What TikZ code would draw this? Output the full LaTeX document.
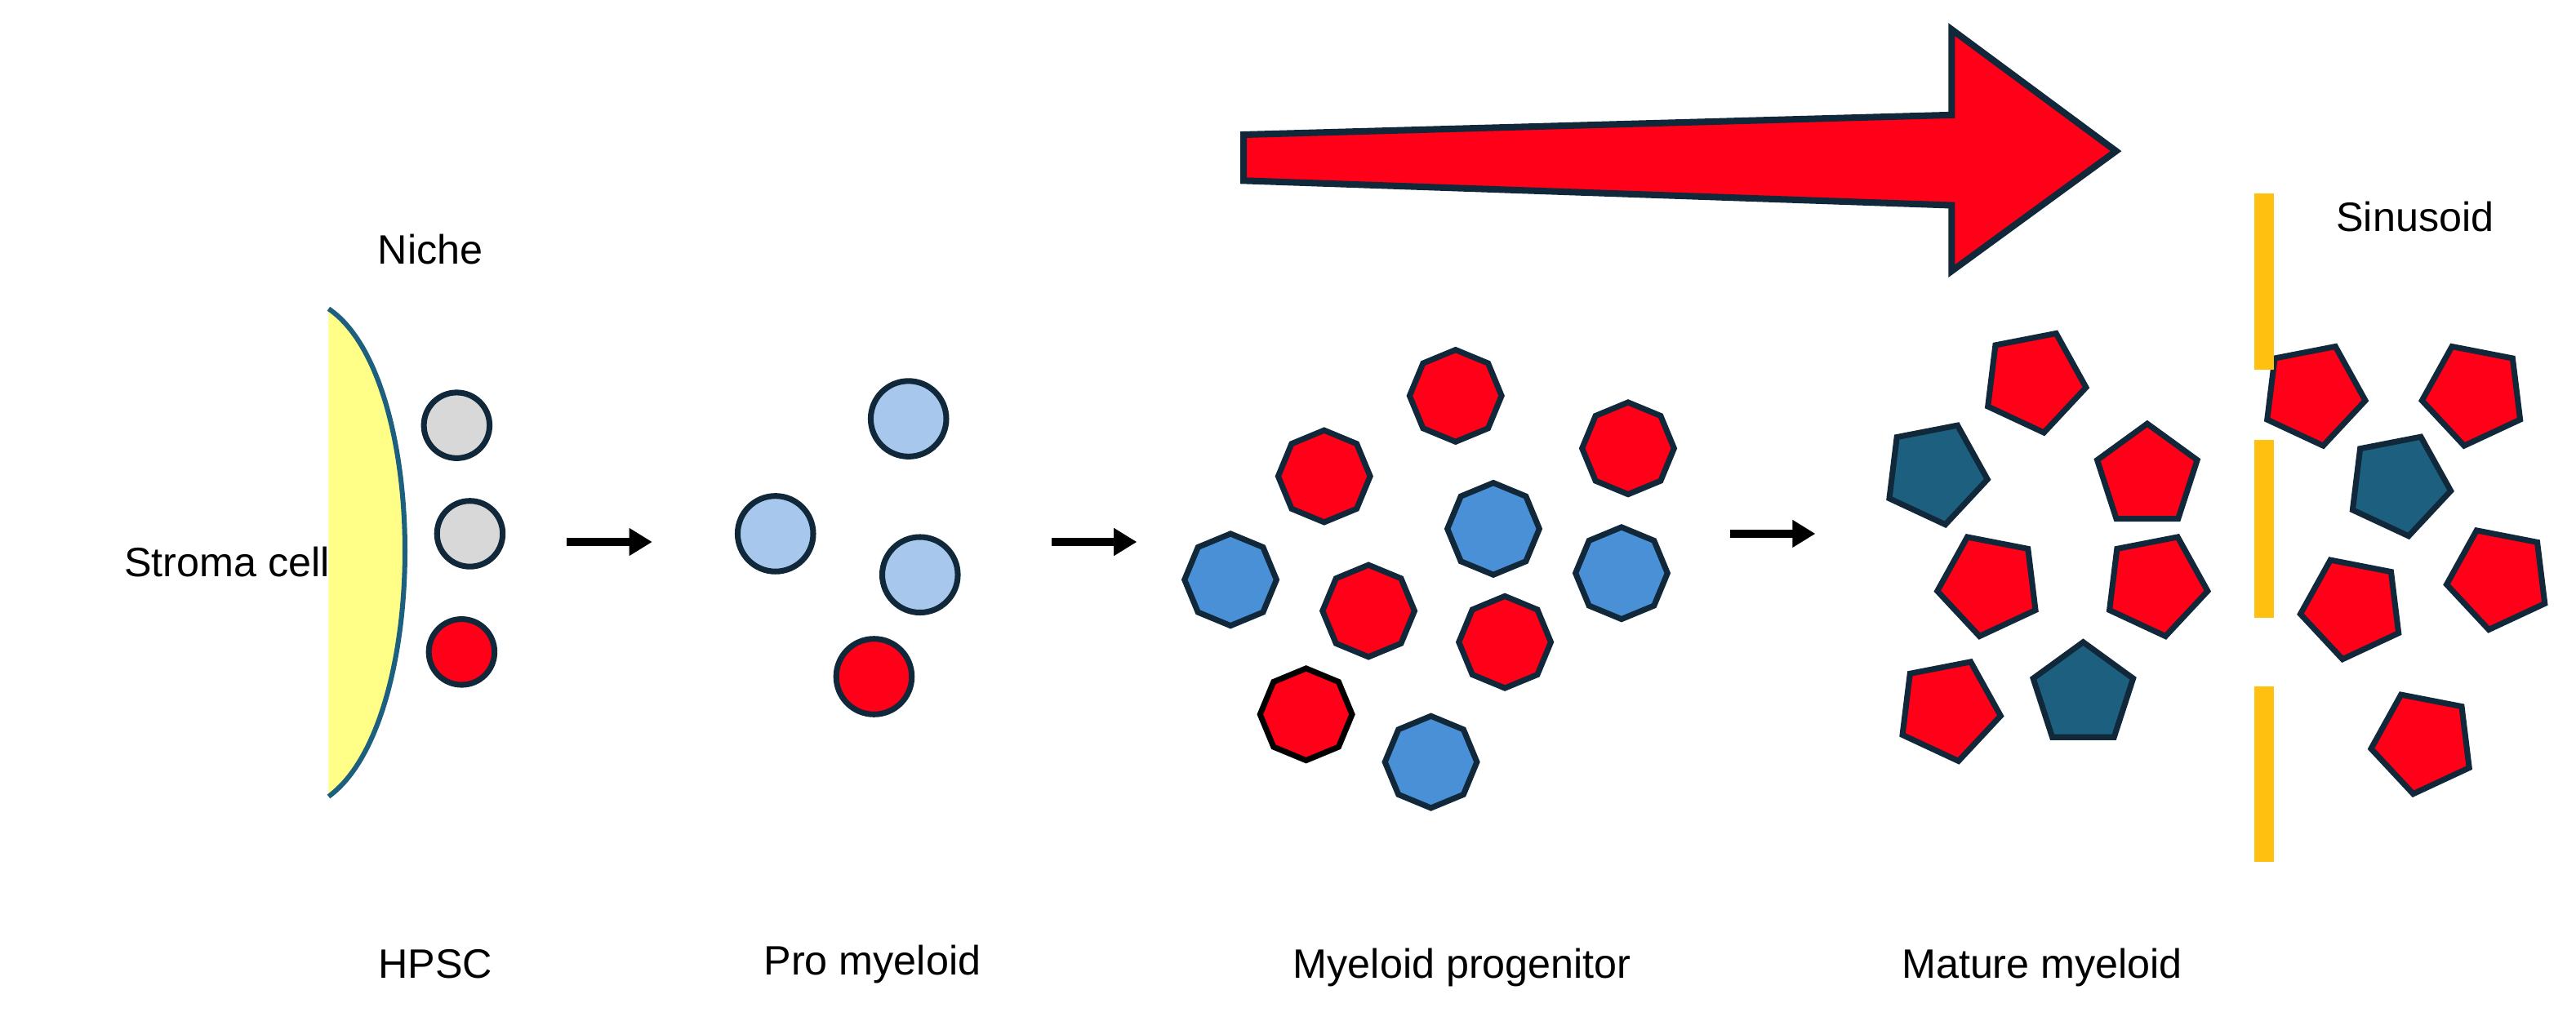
\documentclass[tikz,border=0pt]{standalone}
\usepackage{fontspec}
\setmainfont{Liberation Sans}
\usetikzlibrary{shapes.geometric,arrows.meta}
\definecolor{edge}{HTML}{10283A}
\definecolor{cred}{HTML}{FF0018}
\definecolor{lblue}{HTML}{A7C8EC}
\definecolor{mblue}{HTML}{4A90D6}
\definecolor{teal}{HTML}{1C5F7E}
\definecolor{gry}{HTML}{D8D8D8}
\definecolor{yel}{HTML}{FFFF88}
\definecolor{orn}{HTML}{FFC010}
\tikzset{
 x=1pt,y=-1pt,
 lbl/.style={font=\fontsize{25}{30}\selectfont,inner sep=0},
 cell/.style={circle,draw=edge,line width=3.5pt,minimum size=40pt,inner sep=0},
 pcell/.style={circle,draw=edge,line width=3.5pt,minimum size=46pt,inner sep=0},
 oct/.style={regular polygon,regular polygon sides=8,draw=edge,line width=3.5pt,minimum size=56pt,inner sep=0},
 pent/.style={regular polygon,regular polygon sides=5,draw=edge,line width=3.5pt,minimum size=64pt,inner sep=0},
 stepar/.style={-{Triangle[length=14pt,width=16pt]},line width=5pt,black},
 bar/.style={orn,line width=12pt}
}
\begin{document}
\begin{tikzpicture}
\useasboundingbox (0,0) rectangle (1568,627);
% big arrow
\draw[edge,fill=cred,line width=4pt,line join=miter] (757,82) -- (1188,70) -- (1188,18) -- (1288,92) -- (1188,165) -- (1188,125) -- (757,110) -- cycle;
% stroma
\fill[yel] (200,188) .. controls (262,230) and (262,440) .. (200,485) -- cycle;
\draw[teal,line width=3pt] (200,188) .. controls (262,230) and (262,440) .. (200,485);
\node[lbl] (niche) at (262,152) {Niche};
\node[lbl,anchor=east] (stroma) at (201,342) {Stroma cell};
% HPSC
\node[cell,fill=gry] (h1) at (278,259) {};
\node[cell,fill=gry] (h2) at (286,325) {};
\node[cell,fill=cred] (h3) at (281,397) {};
% pro myeloid
\node[pcell,fill=lblue] (p1) at (553,255) {};
\node[pcell,fill=lblue] (p2) at (472,325) {};
\node[pcell,fill=lblue] (p3) at (560,350) {};
\node[pcell,fill=cred] (p4) at (532,412) {};
% octagons
\node[oct,fill=cred,rotate=22.5] (o1) at (886,241) {};
\node[oct,fill=cred,rotate=22.5] (o2) at (806,290) {};
\node[oct,fill=cred,rotate=22.5] (o3) at (991,273) {};
\node[oct,fill=cred,rotate=22.5] (o4) at (833,372) {};
\node[oct,fill=cred,rotate=22.5] (o5) at (916,391) {};
\node[oct,fill=cred,draw=black,rotate=22.5] (o6) at (795,435) {};
\node[oct,fill=mblue,rotate=22.5] (o7) at (909,322) {};
\node[oct,fill=mblue,rotate=22.5] (o8) at (987,349) {};
\node[oct,fill=mblue,rotate=22.5] (o9) at (749,353) {};
\node[oct,fill=mblue,rotate=22.5] (o10) at (871,464) {};
% pentagons
\node[pent,fill=cred,rotate=-25] (q1) at (1238,232) {};
\node[pent,fill=cred] (q2) at (1307,290) {};
\node[pent,fill=cred,rotate=25] (q3) at (1211,356) {};
\node[pent,fill=cred,rotate=-25] (q4) at (1312,356) {};
\node[pent,fill=cred,rotate=-25] (q5) at (1186,432) {};
\node[pent,fill=cred,rotate=-25] (q6) at (1408,240) {};
\node[pent,fill=cred,rotate=25] (q7) at (1506,240) {};
\node[pent,fill=cred,rotate=25] (q8) at (1432,370) {};
\node[pent,fill=cred,rotate=25] (q9) at (1521,352) {};
\node[pent,fill=cred,rotate=25] (q10) at (1475,452) {};
\node[pent,fill=teal,rotate=-25] (t1) at (1178,288) {};
\node[pent,fill=teal] (t2) at (1268,423) {};
\node[pent,fill=teal,rotate=-25] (t3) at (1460,295) {};
% sinusoid
\draw[bar] (1378,118) -- (1378,225);
\draw[bar] (1378,268) -- (1378,376);
\draw[bar] (1378,418) -- (1378,525);
\node[lbl] (sin) at (1470,132) {Sinusoid};
% step arrows
\coordinate (a1s) at (345,330); \coordinate (a1e) at (397,330);
\coordinate (a2s) at (640,330); \coordinate (a2e) at (692,330);
\coordinate (a3s) at (1053,325); \coordinate (a3e) at (1105,325);
\draw[stepar] (a1s) -- (a1e);
\draw[stepar] (a2s) -- (a2e);
\draw[stepar] (a3s) -- (a3e);
% labels
\node[lbl] (l1) at (265,587) {HPSC};
\node[lbl] (l2) at (531,587) {Pro myeloid};
\node[lbl] (l3) at (890,589) {Myeloid progenitor};
\node[lbl] (l4) at (1243,589) {Mature myeloid};
\end{tikzpicture}
\end{document}
